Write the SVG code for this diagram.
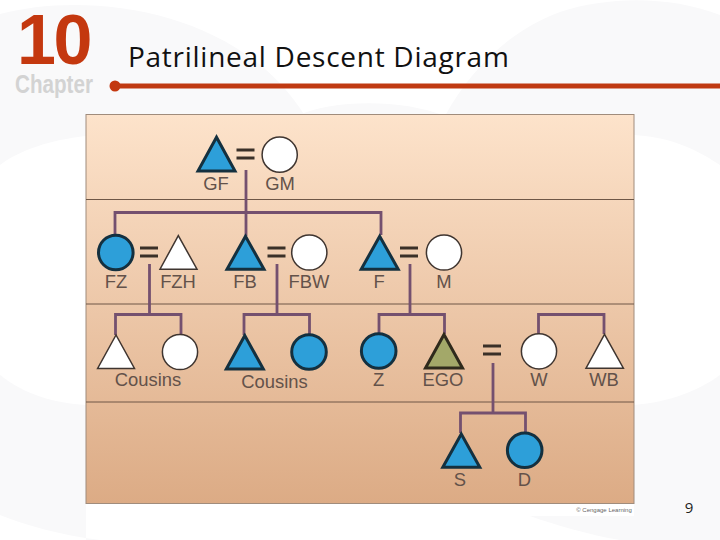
<svg xmlns="http://www.w3.org/2000/svg" width="720" height="540" viewBox="0 0 720 540">
<style>
.lbl{font-family:"Liberation Sans",Arial,sans-serif;font-size:18.400px;fill:#63524a;text-anchor:middle}
.b{fill:#2d9fd9;stroke:#14303f;stroke-width:3}
.w{fill:#fff;stroke:#3f3530;stroke-width:1.5}
.o{fill:#a3a869;stroke:#2f2a1c;stroke-width:3}
.c{fill:none;stroke:#74506f;stroke-width:2.800}
.e{stroke:#3a3028;stroke-width:3;fill:none}
.r{stroke:#6e5646;stroke-width:1;fill:none}
.g{fill:#f9f9fa}
</style>
<defs>
<linearGradient id="bg" x1="0" y1="0" x2="0" y2="1"><stop offset="0" stop-color="#fde3cb"/><stop offset="1" stop-color="#dcab85"/></linearGradient>
<path id="eq" class="e" d="M-9,-4H9M-9,4H9"/>
</defs>
<rect width="720" height="540" fill="#fff"/>
<path class="g" d="M0,14C90,-10 240,10 305,116L86,136C50,140 20,150 0,165Z"/>
<path class="g" d="M297,116C330,100 400,98 445,116Z"/>
<path class="g" d="M445,116C470,70 510,30 560,12C610,-4 670,-4 720,15V165C690,145 665,137 634,135V116Z"/>
<path class="g" d="M634,405C670,402 700,390 720,375V540H620C590,535 555,525 530,516H634Z"/>
<path class="g" d="M0,375C25,395 55,403 86,405V540H100C60,535 25,525 0,515Z"/>
<rect x="86" y="503" width="548" height="13" fill="#fff"/>
<text x="128" y="67" font-family="'Open Sans','Noto Sans',sans-serif" font-size="28" letter-spacing="0.730" fill="#111">Patrilineal Descent Diagram</text>
<text x="17" y="63.500" font-family="'Liberation Sans',Arial,sans-serif" font-weight="700" font-size="70" letter-spacing="-2.500" fill="#c4380f">10</text>
<text x="15" y="93" font-family="'Liberation Sans',Arial,sans-serif" font-weight="700" font-size="25" textLength="78" lengthAdjust="spacingAndGlyphs" fill="#d3d3d3">Chapter</text>
<circle cx="115" cy="86" r="5.500" fill="#c4380f"/>
<path d="M115,86H720" stroke="#c03a12" stroke-width="5"/>
<rect x="86" y="114.500" width="548" height="389" fill="url(#bg)" stroke="#a08c7c" stroke-width="1"/>
<path class="r" d="M86,199.500H634M86,304H634M86,402H634"/>
<text x="604" y="512" font-family="'Liberation Sans',Arial,sans-serif" font-size="6" fill="#666" text-anchor="middle">© Cengage Learning</text>
<text x="689" y="513" font-family="'Open Sans','Noto Sans',sans-serif" font-size="15" fill="#222" text-anchor="middle">9</text>
<g id="connectors">
<path class="c" d="M246,170V236M115,235V212.500H381V235"/>
<path class="c" d="M149.500,264V314.500M115.500,335V314.500H181V335"/>
<path class="c" d="M277,264V314.500M244,335V314.500H309.500V335"/>
<path class="c" d="M410,264V314.500M379,334V314.500H444.500V334"/>
<path class="c" d="M538.500,334V314.500H604V334"/>
<path class="c" d="M493,363V413M460.500,433V413H525.500V433"/>
</g>
<g id="GF"><path class="b" d="M216.500,137.200L198,171H235Z"/><use href="#eq" x="245.500" y="154"/><text class="lbl" x="216" y="190">GF</text></g>
<g id="GM"><circle class="w" cx="279.700" cy="154.700" r="17.600"/><text class="lbl" x="280" y="190">GM</text></g>
<g id="FZ"><circle class="b" cx="115.800" cy="252.500" r="17.300"/><use href="#eq" x="149" y="252"/><text class="lbl" x="116" y="288">FZ</text></g>
<g id="FZH"><path class="w" d="M178.300,235.600L160,269.200H197Z"/><text class="lbl" x="178" y="288">FZH</text></g>
<g id="FB"><path class="b" d="M245.500,236.200L227,269.300H264Z"/><use href="#eq" x="276.500" y="252"/><text class="lbl" x="245" y="288">FB</text></g>
<g id="FBW"><circle class="w" cx="309.300" cy="252.500" r="17.600"/><text class="lbl" x="309" y="288">FBW</text></g>
<g id="F"><path class="b" d="M379.700,236.200L361.200,269.300H398.200Z"/><use href="#eq" x="409" y="252"/><text class="lbl" x="379" y="288">F</text></g>
<g id="M"><circle class="w" cx="444" cy="252.500" r="17.600"/><text class="lbl" x="444" y="288">M</text></g>
<g id="CousinA"><path class="w" d="M116,335L97.600,368.500H134.500Z"/></g>
<g id="CousinB"><circle class="w" cx="180" cy="352" r="17.600"/></g>
<text class="lbl" x="148" y="386">Cousins</text>
<g id="CousinC"><path class="b" d="M244.800,335.500L226.300,369H263.300Z"/></g>
<g id="CousinD"><circle class="b" cx="309" cy="352" r="17.300"/></g>
<text class="lbl" x="274.500" y="388">Cousins</text>
<g id="Z"><circle class="b" cx="378.700" cy="351" r="17.300"/><text class="lbl" x="378.500" y="386">Z</text></g>
<g id="EGO"><path class="o" d="M444,334.500L425.500,368H462.500Z"/><text class="lbl" x="443" y="386">EGO</text></g>
<use href="#eq" x="492" y="350"/>
<g id="W"><circle class="w" cx="539" cy="351.300" r="17.600"/><text class="lbl" x="539" y="386">W</text></g>
<g id="WB"><path class="w" d="M604.500,334.300L586,368.200H623.400Z"/><text class="lbl" x="604" y="386">WB</text></g>
<g id="S"><path class="b" d="M461.300,434L442.800,467.300H479.800Z"/><text class="lbl" x="460" y="486">S</text></g>
<g id="D"><circle class="b" cx="524.700" cy="450.300" r="17.300"/><text class="lbl" x="524.500" y="486">D</text></g>
</svg>
